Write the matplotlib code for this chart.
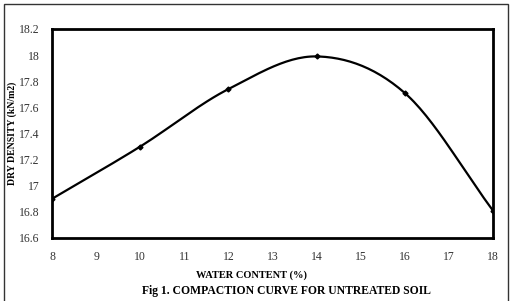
import matplotlib.pyplot as plt
import numpy as np
from matplotlib.patches import Rectangle

plt.rcParams['font.family'] = ['Liberation Serif', 'DejaVu Serif']

water = [8, 10, 12, 14, 16, 18]
density = [16.9, 17.3, 17.74, 17.99, 17.71, 16.81]
xticks = list(range(8, 19))
yticks = [16.6, 16.8, 17, 17.2, 17.4, 17.6, 17.8, 18, 18.2]


def smooth(x, y, n=30):
    # catmull-rom style smoothing like the spreadsheet "smoothed line"
    x = np.asarray(x, float); y = np.asarray(y, float)
    px = np.concatenate([[2*x[0]-x[1]], x, [2*x[-1]-x[-2]]])
    py = np.concatenate([[2*y[0]-y[1]], y, [2*y[-1]-y[-2]]])
    xs, ys = [], []
    t = np.linspace(0, 1, n)
    for i in range(1, len(px)-2):
        for p, out in ((px, xs), (py, ys)):
            p0, p1, p2, p3 = p[i-1], p[i], p[i+1], p[i+2]
            out.extend(0.5*((2*p1) + (-p0+p2)*t + (2*p0-5*p1+4*p2-p3)*t**2
                            + (-p0+3*p1-3*p2+p3)*t**3))
    return np.array(xs), np.array(ys)


fig = plt.figure(figsize=(5.12, 3.01), dpi=100)
ax = fig.add_axes([52/512, 1-238/301, (493-52)/512, (238-29)/301])

sx, sy = smooth(water, density)
ax.plot(sx, sy, color='black', lw=1.6)
ax.plot(water, density, 'D', color='black', ms=2.5)

ax.set_xlim(8, 18)
ax.set_ylim(16.6, 18.2)
ax.set_xticks(xticks)
ax.set_yticks(yticks)
ax.set_yticklabels([f'{v:g}' for v in yticks])
ax.tick_params(length=0, labelsize=8.5, colors='#333333', pad=9)
for s in ax.spines.values():
    s.set_linewidth(2)

fig.text(252/512, 1 - 275/301, 'WATER CONTENT (%)', ha='center', va='center',
         fontsize=7.5, fontweight='bold')
fig.text(12/512, 1 - 133/301, 'DRY DENSITY (kN/m2)', rotation=90, ha='center', va='center',
         fontsize=7, fontweight='bold')
fig.text(286/512, 1 - 291/301, 'Fig 1. COMPACTION CURVE FOR UNTREATED SOIL', ha='center',
         va='center', fontsize=8.4, fontweight='bold')

fig.patches.append(Rectangle((4/512, -0.01), 504/512, 1 - 4/301 + 0.01, transform=fig.transFigure,
                             fill=False, lw=1, edgecolor='#333333'))

fig.savefig('out.png', dpi=100)
